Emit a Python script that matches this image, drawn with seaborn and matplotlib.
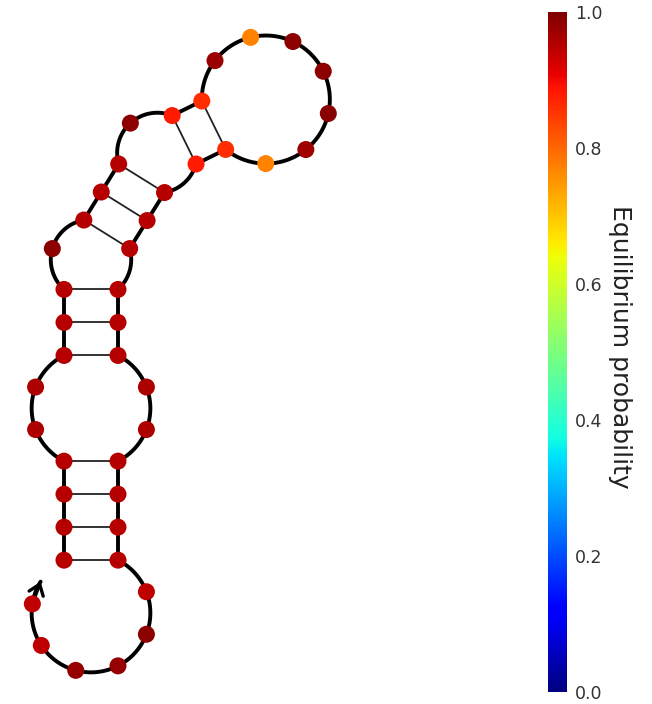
import numpy as np
import pandas as pd
import seaborn as sns
import matplotlib as mpl
import matplotlib.pyplot as plt

# Secondary structure (dot-bracket) and equilibrium probability of each base
structure = "((((..(((.(((.((.......))))))))..))))......"
prob = [0.95, 0.95, 0.95, 0.95, 0.96, 0.96, 0.95, 0.95, 0.95, 0.985,
        0.95, 0.95, 0.95, 0.985, 0.88, 0.86, 0.975, 0.77, 0.985, 0.985,
        0.99, 0.97, 0.77, 0.86, 0.88, 0.95, 0.95, 0.95, 0.95, 0.95,
        0.95, 0.96, 0.96, 0.95, 0.95, 0.95, 0.95, 0.945, 0.985, 0.98,
        0.98, 0.945, 0.945]
cbar_ticks = [0.0, 0.2, 0.4, 0.6, 0.8, 1.0]
cbar_label = "Equilibrium probability"

# layout sizes (in pixels)
STEM_STEP = 33.0
PAIR_W = 54.0
LOOP_STEP = 42.5


def pair_table(s):
    stack, pt = [], [-1] * len(s)
    for i, ch in enumerate(s):
        if ch == '(':
            stack.append(i)
        elif ch == ')':
            j = stack.pop()
            pt[i], pt[j] = j, i
    return pt


pt = pair_table(structure)
n = len(structure)
pos = np.zeros((n, 2))
theta = np.zeros(n)
arcs = []   # backbone arcs in loops: (center, R, th0, th1)
stems = []  # straight backbone pieces in helices


def radius(edges):
    lo, hi = max(edges) / 2 + 1e-9, 1000.0
    for _ in range(100):
        mid = (lo + hi) / 2
        tot = sum(2 * np.arcsin(e / (2 * mid)) for e in edges)
        if tot > 2 * np.pi:
            lo = mid
        else:
            hi = mid
    return (lo + hi) / 2


def edge_len(a, b):
    return PAIR_W if pt[a] == b else LOOP_STEP


def loop_nodes(i, j):
    nodes = [i]
    k = i + 1
    while k < j:
        nodes.append(k)
        if pt[k] > k:
            nodes.append(pt[k])
            k = pt[k] + 1
        else:
            k += 1
    nodes.append(j)
    return nodes


def place_loop(nodes, center, R, th):
    for k, a in enumerate(nodes):
        theta[a] = th
        pos[a] = center + R * np.array([np.cos(th), np.sin(th)])
        if k < len(nodes) - 1:
            b = nodes[k + 1]
            dth = 2 * np.arcsin(edge_len(a, b) / (2 * R))
            if pt[a] != b:
                arcs.append((center, R, th, th - dth))
            th -= dth
    for a, b in zip(nodes[:-1], nodes[1:]):
        if pt[a] == b:
            grow_stem(a, b, center)


def grow_stem(p, q, center):
    nrm = (pos[p] + pos[q]) / 2 - center
    nrm /= np.linalg.norm(nrm)
    while pt[p + 1] == q - 1:
        pos[p + 1] = pos[p] + STEM_STEP * nrm
        pos[q - 1] = pos[q] + STEM_STEP * nrm
        stems.append((p, p + 1))
        stems.append((q - 1, q))
        p += 1
        q -= 1
    nodes = loop_nodes(p, q)
    edges = [edge_len(a, b) for a, b in zip(nodes[:-1], nodes[1:])] + [PAIR_W]
    R = radius(edges)
    h = np.sqrt(R ** 2 - (PAIR_W / 2) ** 2)
    c = (pos[p] + pos[q]) / 2 + h * nrm
    d = pos[p] - c
    place_loop(nodes, c, R, np.arctan2(d[1], d[0]))


# exterior loop (ends closed by a virtual gap of pair width)
ext = []
k = 0
while k < n:
    ext.append(k)
    if pt[k] > k:
        ext.append(pt[k])
        k = pt[k] + 1
    else:
        k += 1
ext_edges = [edge_len(a, b) for a, b in zip(ext[:-1], ext[1:])] + [PAIR_W]
R0 = radius(ext_edges)
a0 = 2 * np.arcsin(ext_edges[0] / (2 * R0))
place_loop(ext, np.zeros(2), R0, np.pi / 2 + a0 / 2)

df = pd.DataFrame({'x': pos[:, 0], 'y': pos[:, 1], 'prob': prob})

sns.set_theme(style='white')
plt.rcParams['font.family'] = ['DejaVu Sans']

fig = plt.figure(figsize=(6.52, 7.04), dpi=100)
ax = fig.add_axes([0, 0, 1, 1])
ax.set_xlim(-91, 652 - 91)
ax.set_ylim(-91, 704 - 91)
ax.axis('off')

# backbone
for c, R, t0, t1 in arcs:
    t = np.linspace(t0, t1, 40)
    ax.plot(c[0] + R * np.cos(t), c[1] + R * np.sin(t), color='black', lw=2.8,
            solid_capstyle='round', zorder=1)
for a, b in stems:
    ax.plot(pos[[a, b], 0], pos[[a, b], 1], color='black', lw=2.8,
            solid_capstyle='round', zorder=1)

# base pairs
for i in range(n):
    if pt[i] > i:
        ax.plot(pos[[i, pt[i]], 0], pos[[i, pt[i]], 1], color='#222222',
                lw=1.3, zorder=1)

# 3' end arrow
last = ext[-1]
step = 2 * np.arcsin(LOOP_STEP / (2 * R0))
t = np.linspace(theta[last], theta[last] - 0.55 * step, 30)
ax.plot(R0 * np.cos(t), R0 * np.sin(t), color='black', lw=2.8, zorder=1)
ax.annotate('', xy=(R0 * np.cos(t[-1]), R0 * np.sin(t[-1])),
            xytext=(pos[last, 0], pos[last, 1]),
            arrowprops=dict(arrowstyle='->,head_length=0.6,head_width=0.45',
                            lw=2.4, color='black', shrinkA=0, shrinkB=0),
            zorder=2)

jet = mpl.colormaps['jet']
sns.scatterplot(data=df, x='x', y='y', hue='prob', palette=jet,
                hue_norm=(0, 1), s=150, linewidth=0, legend=False, ax=ax,
                zorder=3)
ax.set_xlim(-91, 652 - 91)
ax.set_ylim(-91, 704 - 91)

cax = fig.add_axes([548 / 652, 12 / 704, 19 / 652, 680 / 704])
sm = mpl.cm.ScalarMappable(norm=mpl.colors.Normalize(0, 1), cmap=jet)
cbar = fig.colorbar(sm, cax=cax, ticks=cbar_ticks)
cbar.outline.set_visible(False)
cax.tick_params(length=0, pad=6, labelsize=12.5, labelcolor='#333333')
cax.set_ylabel(cbar_label, rotation=270, fontsize=18, color='#222222',
               va='center', ha='center')
cax.yaxis.set_label_coords(3.8, 0.507)

fig.savefig('out.png', dpi=100)
